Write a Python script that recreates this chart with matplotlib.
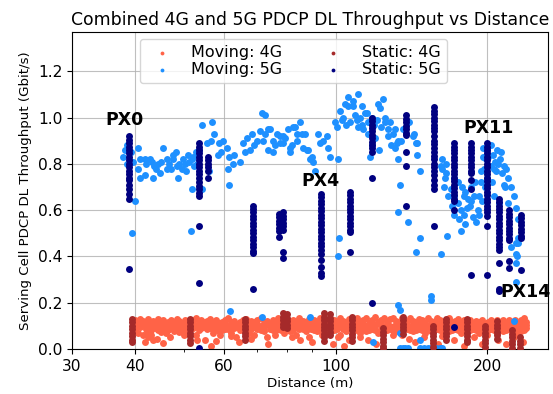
import matplotlib
matplotlib.use("Agg")
import matplotlib.pyplot as plt
from matplotlib.ticker import FixedLocator, FixedFormatter, NullFormatter

# ---------------- data ----------------
moving_4g_dist = [40.0, 40.5, 41.0, 41.5, 42.0, 42.5, 43.0, 43.5, 44.0, 44.5, 45.0, 45.5, 46.0, 46.6,
                  47.2, 47.8, 48.4, 49.0, 49.6, 50.2, 50.8, 51.5, 52.2, 52.8, 53.5, 54.2, 55.0, 55.7,
                  56.4, 57.2, 58.0, 58.8, 59.6, 60.4, 61.2, 62.0, 62.8, 63.6, 64.5, 65.4, 66.3, 67.2,
                  68.1, 69.0, 70.0, 71.0, 72.0, 73.0, 74.0, 75.0, 76.0, 77.0, 78.0, 79.0, 80.0, 81.2,
                  82.4, 83.6, 84.8, 86.0, 87.2, 88.4, 89.6, 90.8, 92.0, 93.2, 94.4, 95.6, 96.8, 98.0,
                  99.3, 100.6, 102.0, 103.4, 104.8, 106.2, 107.6, 109.0, 110.5, 112.0, 113.5, 115.0,
                  116.6, 118.2, 119.8, 121.4, 123.0, 124.7, 126.4, 128.1, 129.8, 131.6, 133.4, 135.2,
                  137.0, 138.9, 140.8, 142.7, 144.7, 146.7, 148.7, 150.7, 152.8, 154.9, 157.0, 159.2,
                  161.4, 163.6, 165.8, 168.1, 170.4, 172.7, 175.1, 177.5, 179.9, 182.4, 184.9, 187.4,
                  190.0, 192.6, 195.2, 197.9, 200.6, 203.3, 206.1, 208.9, 211.8, 214.7, 217.6, 220.6,
                  223.6, 226.7, 229.8, 233.0, 236.2, 238.5]
moving_4g_upper = [.125, .115, .13, .12, .118, .128, .11, .122, .117, .13, .112, .125, .108, .118,
                   .126, .114, .13, .121, .113, .127, .109, .118, .124, .132, .115, .126, .117, .123,
                   .131, .112, .124, .109, .118, .127, .133, .115, .122, .108, .117, .125, .13, .111,
                   .123, .116, .127, .134, .114, .121, .109, .126, .117, .132, .123, .115, .127, .108,
                   .124, .116, .135, .122, .113, .128, .11, .126, .117, .133, .121, .114, .127, .109,
                   .124, .116, .134, .122, .113, .128, .11, .123, .136, .115, .127, .133,
                   .114, .125, .137, .116, .126, .134, .117, .128, .136, .122, .115, .133,
                   .125, .116, .135, .122, .114, .131, .126, .113, .134, .121, .115, .132,
                   .124, .112, .127, .133, .115, .123, .131, .114, .125, .116, .127, .108,
                   .122, .115, .126, .109, .117, .124, .106, .125, .113, .127, .108, .124,
                   .116, .127, .113, .126, .134, .118]
moving_4g_mid = [.105, .098, .11, .102, .095, .107, .1, .09, .104, .112, .097, .108, .101, .094,
                 .106, .099, .11, .103, .096, .107, .1, .093, .105, .098, .109, .102, .095, .106,
                 .099, .092, .104, .111, .097, .105, .1, .093, .107, .099, .091, .104, .11, .096,
                 .103, .097, .106, .1, .094, .108, .101, .093, .105, .099, .11, .102, .096, .104,
                 .1, .093, .107, .101, .095, .105, .098, .11, .103, .096, .106, .1, .094, .107,
                 .101, .095, .109, .102, .096, .106, .099, .111, .104, .097, .108, .1,
                 .094, .106, .1, .113, .105, .097, .108, .101, .095, .11, .103, .098,
                 .107, .1, .094, .109, .103, .096, .108, .1, .094, .107, .101, .112,
                 .104, .097, .109, .102, .096, .107, .1, .093, .106, .099, .105, .097,
                 .103, .096, .107, .1, .094, .105, .099, .108, .101, .096, .104, .099,
                 .106, .095, .102, .108, .1, .105]
moving_4g_lower = [.085, .07, .095, .06, .088, .05, .08, .04, .09, .082, .075, .086, .07, .08,
                   .09, .078, .085, .072, .088, .08, .069, .085, .09, .06, .083, .089, .04, .085,
                   .09, .07, .086, .078, .08, .088, .085, .07, .09, .05, .08, .087, .078, .07,
                   .085, .06, .088, .082, .078, .05, .086, .08, .076, .087, .083, .07, .09, .078,
                   .082, .06, .086, .088, .078, .05, .085, .08, .076, .088, .084, .07, .09, .078,
                   .082, .086, .06, .088, .078, .04, .085, .08, .084, .07, .088, .078,
                   .082, .086, .08, .07, .088, .078, .082, .086, .08, .078, .085, .06,
                   .086, .088, .082, .078, .084, .086, .08, .07, .088, .078, .082, .086,
                   .08, .07, .088, .078, .082, .086, .08, .07, .088, .078, .082, .086,
                   .08, .07, .088, .078, .082, .086, .08, .07, .088, .078, .082, .086,
                   .08, .07, .088, .078, .082, .09]
moving_4g_low = [(41.8, .03), (45.5, .025), (56.5, .015), (64.2, .03), (73.5, .02), (99.0, .02),
                 (104.0, .015), (120.5, .02), (144.0, .03), (160.0, .02), (180.0, .015),
                 (195.0, .02), (218.0, .02), (235.0, .03), (43.0, .06), (47.0, .05), (59.0, .06),
                 (85.0, .04), (112.0, .05), (150.0, .05), (188.0, .05), (226.0, .05),
                 (42.2, .07), (44.2, .045), (50.0, .06), (53.0, .04), (58.0, .035), (62.0, .055),
                 (68.0, .045), (76.0, .06), (82.0, .05), (90.0, .03), (94.0, .06), (101.0, .05),
                 (116.0, .04), (130.0, .06), (140.0, .045), (163.0, .055), (172.0, .04),
                 (200.0, .06), (210.0, .04), (230.0, .07)]

moving_5g = [
    # 38 - 56 m
    (38.2, .86), (37.9, .83), (38.5, .80), (40.5, .87), (41.0, .82), (41.8, .82), (40.6, .78),
    (41.0, .74), (41.8, .75), (42.8, .82), (43.5, .74), (43.2, .81), (44.5, .80), (45.4, .87),
    (46.2, .82), (46.2, .78), (47.6, .82), (48.2, .85), (48.6, .74), (49.0, .80), (49.8, .82),
    (50.9, .84), (50.5, .77), (51.8, .82), (52.0, .69), (52.9, .85), (54.4, .97), (55.5, .89),
    (56.2, .77), (54.4, .69), (51.7, .51), (39.5, .50), (40.0, .64), (39.6, .81), (42.0, .80),
    (44.0, .78), (45.0, .81), (46.8, .80), (47.2, .78), (48.4, .79), (49.5, .78), (50.2, .80),
    (51.2, .81), (52.5, .79), (52.2, .83), (53.5, .86), (53.0, .80), (39.2, .85), (38.6, .88),
    (47.5, .84), (44.8, .76), (43.6, .79),
    # 56 - 100 m
    (57.0, .98), (57.3, .93), (56.7, .90), (58.8, .89), (59.8, .90), (58.5, .84), (59.2, .85),
    (60.8, .87), (61.5, .83), (61.2, .78), (61.5, .71), (64.7, .81), (65.6, .89), (66.2, .85),
    (67.7, .86), (68.4, .93), (69.9, .90), (70.9, .94), (71.5, 1.02), (72.5, 1.01), (73.5, .95),
    (73.5, .86), (75.2, .90), (76.6, .93), (77.7, .89), (78.8, .92), (80.3, .95), (81.3, .87),
    (82.4, .96), (83.9, .93), (85.1, .98), (87.1, .93), (87.9, .86), (89.1, .82), (72.5, .93),
    (74.2, .95), (75.2, .85), (77.7, .92), (78.8, .89), (81.3, .85), (82.0, .88), (83.2, .96),
    (84.0, .90), (85.9, .93), (86.3, .87), (88.3, .86), (90.0, .83), (90.4, .81), (91.2, .77),
    (92.5, .93), (93.3, .89), (94.5, .90), (96.0, .92), (96.5, .87), (97.6, .83), (99.9, .98),
    (101.0, .82), (63.0, .84), (66.8, .91), (69.0, .88), (71.8, .90), (76.0, .88), (79.5, .91),
    (62.5, .80),
    # 100 - 150 m
    (102.2, 1.03), (103.7, 1.00), (104.6, 1.06), (106.0, 1.09), (107.0, .98), (108.5, 1.05),
    (110.5, .99), (111.0, 1.10), (112.0, 1.00), (113.6, .95), (115.6, 1.02), (117.2, .83),
    (121.5, 1.06), (122.7, 1.04), (124.5, 1.08), (125.6, 1.00), (126.8, .95), (128.5, .98),
    (130.3, .93), (132.7, .89), (133.3, .82), (134.5, .71), (136.3, .95), (142.7, .92),
    (145.4, .89), (106.0, 1.05), (108.5, 1.07), (113.0, 1.05), (114.6, 1.02), (125.6, .98),
    (131.5, .95), (133.3, .90), (100.8, .96), (103.0, .99), (105.0, .97), (109.5, 1.01),
    (111.0, .96), (113.0, .97), (116.0, .98), (118.0, 1.0), (119.0, .97), (121.0, .99),
    (123.0, .96), (116.0, .93), (120.0, .91), (118.0, .88), (122.0, .86), (127.0, .92),
    (129.0, .88), (131.0, .87), (135.0, .90), (140.2, .98), (143.4, .93), (144.1, .89),
    (144.8, .84), (147.4, .77),
    # 150 - 240 m
    (162.4, .82), (161.6, .79), (164.6, .74), (169.2, .69), (171.5, .66), (174.7, .63),
    (177.1, .60), (179.6, .66), (182.2, .61), (185.5, .64), (187.2, .57), (191.6, .60),
    (192.4, .66), (194.2, .77), (196.0, .83), (198.7, .82), (203.3, .79), (208.0, .77),
    (212.8, .85), (215.8, .79), (219.8, .74), (222.8, .70), (225.8, .66), (228.0, .61),
    (230.1, .56), (230.1, .46), (228.0, .41), (204.2, .72), (206.0, .66), (210.8, .63),
    (215.8, .71), (219.8, .63), (196.0, .87), (200.0, .86), (203.0, .88), (205.0, .84),
    (209.0, .86), (212.0, .82), (210.0, .80), (206.0, .78), (214.0, .76), (218.0, .78),
    (217.0, .70), (200.0, .74), (198.0, .70), (197.0, .78), (194.0, .72), (189.0, .72),
    (186.0, .70), (181.0, .68), (178.0, .70), (175.0, .72), (172.0, .74), (166.0, .76),
    (164.0, .70), (167.0, .66), (185.0, .62), (188.0, .66), (190.0, .55), (193.0, .58),
    (176.0, .56), (172.0, .58), (180.0, .58), (163.0, .78), (166.0, .80), (201.0, .83),
    (207.0, .81), (195.0, .64), (183.0, .65), (170.0, .62),
    # scattered low points
    (133.3, .59), (139.5, .55), (147.4, .48), (144.1, .42), (101.6, .48), (101.0, .40),
    (161.6, .41), (166.2, .49), (177.1, .51), (180.4, .54), (228.0, .46), (229.0, .40),
    (228.0, .37), (228.0, .29), (230.0, .48), (222.8, .44), (226.0, .12),
    (61.8, .165), (71.5, .14), (89.1, .14), (133.3, .19), (134.5, .17), (154.4, .23),
    (155.0, .21), (134.5, .07), (118.5, .03), (147.4, .04),
    (134.5, .003), (136.0, .003), (137.6, .003), (139.0, .003), (147.4, .003), (150.0, .003),
    (152.5, .003), (155.0, .003), (158.0, .003), (161.0, .003), (163.0, .003),
]

static_4g_dist = [39.5, 51.5, 66.0, 78.5, 80.0, 95.0, 97.5, 108.0, 124.0, 136.0, 156.0,
                  166.0, 182.0, 198.0, 209.0, 224.0, 232.0]
static_4g_vals = [
    [.13, .115, .10, .085, .07, .055, .04, .03],
    [.13, .115, .10, .085, .07, .055, .04, .025],
    [.13, .115, .10, .085, .07, .055, .04],
    [.155, .14, .125, .11, .095],
    [.15, .135, .12, .105, .09],
    [.155, .14, .125, .11, .095, .08, .065, .05, .035],
    [.15, .135, .12, .105, .09, .075, .06],
    [.14, .125, .11, .095, .08, .065, .05, .035],
    [.09, .075, .06, .045, .03, .015, .003],
    [.14, .125, .11, .095, .08, .065],
    [.10, .085, .07, .055, .04, .025, .01],
    [.13, .115, .10, .085, .07, .055, .04],
    [.13, .115, .10, .085, .07, .055, .04, .03],
    [.10, .085, .07, .055, .04, .025, .01],
    [.12, .105, .09, .075, .06, .045],
    [.08, .065, .05, .035, .02, .005],
    [.05, .035, .02, .005],
]

static_5g_dist = [39.0, 53.6, 55.8, 68.7, 77.2, 78.6, 93.4, 107.0, 118.0, 138.0, 157.0,
                  171.5, 185.5, 200.0, 211.0, 220.5, 233.5]
static_5g_vals = [
    [.92, .905, .89, .875, .86, .845, .83, .815, .80, .785, .77, .755, .74, .73, .71, .69, .67, .65, .345],
    [.89, .875, .86, .845, .83, .815, .80, .785, .77, .755, .74, .72, .705, .69, .675, .66, .53, .285, .003],
    [.83, .815, .80, .785, .77, .74],
    [.62, .605, .59, .575, .56, .545, .53, .515, .50, .485, .47, .455, .44, .425, .415, .26],
    [.585, .57, .555, .54, .525, .51, .485],
    [.59, .575, .56, .545, .53, .515, .42, .395],
    [.67, .655, .64, .625, .61, .595, .58, .565, .55, .535, .52, .505, .49, .475, .46, .445, .43,
     .41, .385, .355, .33, .315],
    [.68, .665, .65, .635, .62, .605, .59, .575, .56, .545, .53, .515, .505, .42],
    [1.00, .985, .97, .955, .94, .925, .91, .895, .88, .87, .85, .74, .20],
    [1.01, .995, .98, .965, .95, .935, .925, .85, .79, .62],
    [1.045, 1.03, 1.015, 1.0, .985, .97, .955, .94, .92, .90, .885, .87, .85, .835, .82, .80,
     .785, .77, .75, .73, .71, .69, .53],
    [.89, .875, .86, .845, .83, .815, .80, .785, .77, .755, .74, .725, .71, .695, .68, .665,
     .65, .64, .60, .095],
    [.89, .875, .86, .845, .83, .815, .80, .785, .77, .76, .73, .69, .32],
    [.89, .875, .86, .845, .83, .815, .80, .785, .77, .755, .74, .725, .71, .695, .68, .665,
     .65, .635, .62, .605, .59, .575, .53, .32],
    [.65, .635, .62, .605, .59, .575, .56, .545, .53, .515, .50, .485, .47, .455, .44, .43,
     .37, .26, .25],
    [.60, .585, .57, .555, .54, .525, .51, .495, .48, .47, .38, .35],
    [.58, .565, .55, .535, .52, .505, .49, .48, .34],
]

px_labels = ["PX0", "PX4", "PX11", "PX14"]
px_label_pos = [(38.2, 0.99), (93.3, 0.726), (201.0, 0.955), (238.7, 0.246)]

x_ticks = [30, 40, 60, 100, 200]
y_ticks = [0.0, 0.2, 0.4, 0.6, 0.8, 1.0, 1.2]

# ---------------- plot ----------------
fig = plt.figure(figsize=(5.53, 3.94), dpi=100)
ax = fig.add_axes([0.1302, 0.1142, 0.8608, 0.8046])

S = 25
c_m4, c_m5, c_s4, c_s5 = "#FF6347", "#1E90FF", "#A52A2A", "#000080"

# Moving 4G
m4x = moving_4g_dist * 3 + [p[0] for p in moving_4g_low]
m4y = moving_4g_upper + moving_4g_mid + moving_4g_lower + [p[1] for p in moving_4g_low]
ax.scatter(m4x, m4y, s=S, c=c_m4, linewidths=0, label="Moving: 4G", zorder=2)

# Moving 5G
ax.scatter([p[0] for p in moving_5g], [p[1] for p in moving_5g], s=S, c=c_m5,
           linewidths=0, label="Moving: 5G", zorder=2)

# Static 4G
s4x, s4y = [], []
for d, vals in zip(static_4g_dist, static_4g_vals):
    s4x += [d] * len(vals)
    s4y += vals
ax.scatter(s4x, s4y, s=S, c=c_s4, linewidths=0, label="Static: 4G", zorder=3)

# Static 5G
s5x, s5y = [], []
for d, vals in zip(static_5g_dist, static_5g_vals):
    s5x += [d] * len(vals)
    s5y += vals
ax.scatter(s5x, s5y, s=S, c=c_s5, linewidths=0, label="Static: 5G", zorder=3)

for lab, (xx, yy) in zip(px_labels, px_label_pos):
    ax.text(xx, yy, lab, fontsize=12.5, fontweight="bold", ha="center", va="center", zorder=5)

ax.set_xscale("log")
ax.set_xlim(30, 264)
ax.set_ylim(0, 1.37)
ax.xaxis.set_major_locator(FixedLocator(x_ticks))
ax.xaxis.set_major_formatter(FixedFormatter([str(t) for t in x_ticks]))
ax.xaxis.set_minor_formatter(NullFormatter())
ax.set_yticks(y_ticks)
ax.set_yticklabels([f"{t:.1f}" for t in y_ticks])
ax.tick_params(axis="both", which="major", labelsize=11.2)
ax.grid(True, which="major", color="#b0b0b0", linewidth=0.8, alpha=0.8)
ax.set_axisbelow(True)

ax.set_title("Combined 4G and 5G PDCP DL Throughput vs Distance", fontsize=12.4, pad=5)
ax.set_xlabel("Distance (m)", fontsize=9.6, labelpad=2)
ax.set_ylabel("Serving Cell PDCP DL Throughput (Gbit/s)", fontsize=9.6)

ax.legend(loc="upper left", bbox_to_anchor=(0.143, 0.978), borderaxespad=0, ncol=2,
          fontsize=11.5, markerscale=0.55, labelspacing=0.1, columnspacing=2.2,
          handletextpad=0.8, borderpad=0.4)

fig.savefig("out.png", dpi=100)
